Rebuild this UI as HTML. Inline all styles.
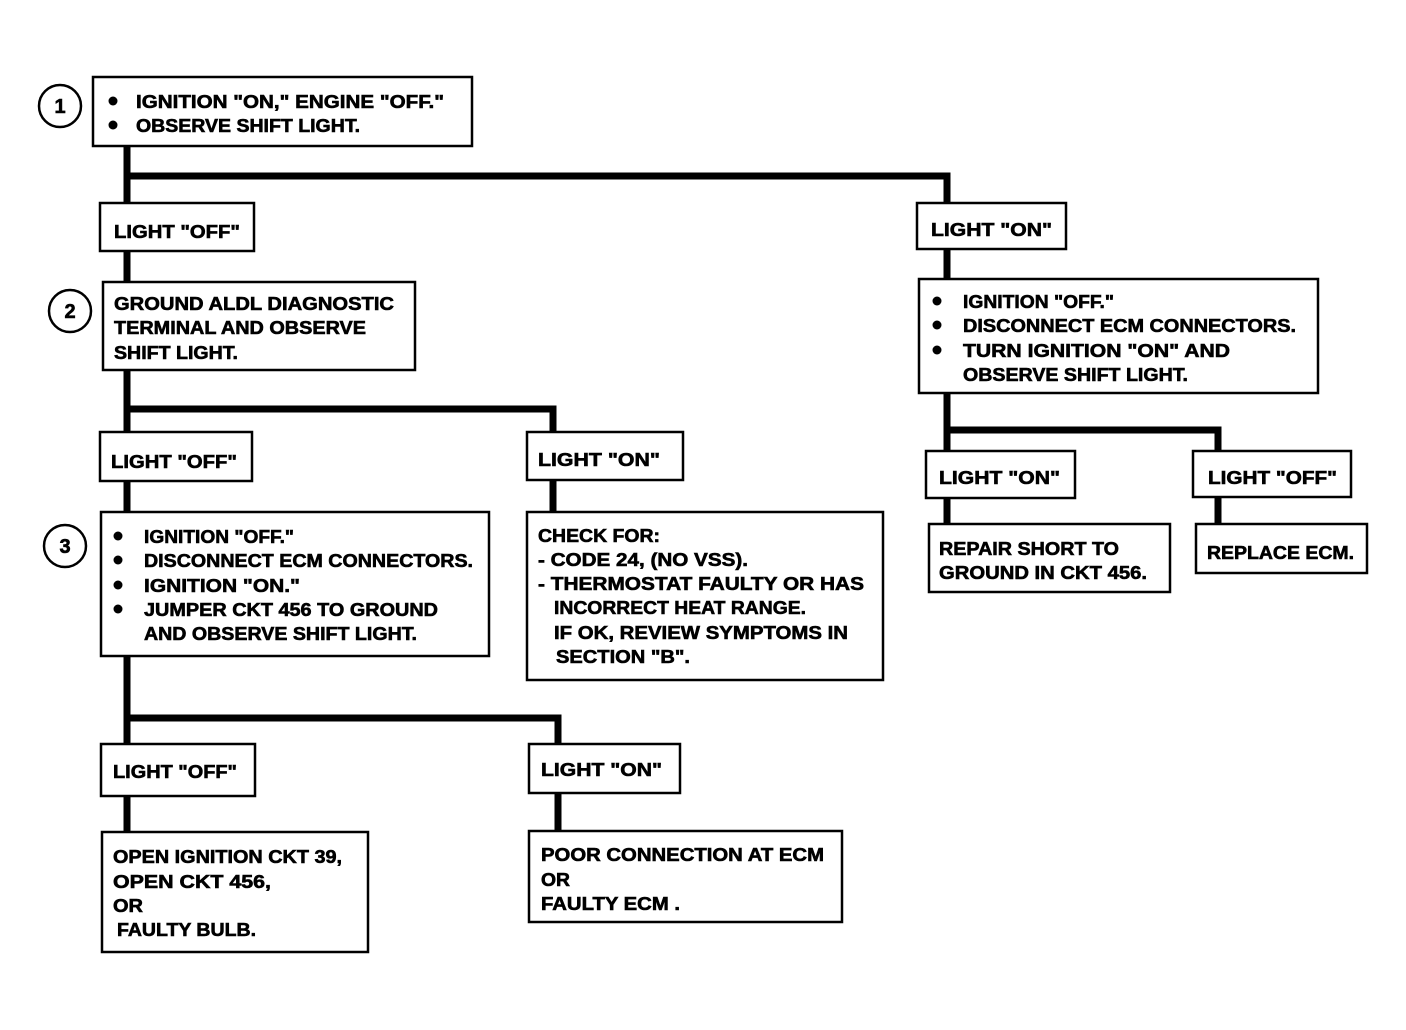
<!DOCTYPE html>
<html><head><meta charset="utf-8"><style>
html,body{margin:0;padding:0;background:#fff;}
svg{display:block;}
text{font-family:"Liberation Sans",Arial,sans-serif;font-weight:bold;font-size:18px;fill:#000;stroke:#000;stroke-width:0.6;}
.c{font-size:20px;}
</style></head><body>
<svg width="1406" height="1030" viewBox="0 0 1406 1030" xmlns="http://www.w3.org/2000/svg">
<rect width="1406" height="1030" fill="#fff"/>
<g stroke="#000" stroke-width="7" fill="none" stroke-linecap="square">
<path d="M127 146V203M127 176H947V203"/>
<path d="M127 251V282"/>
<path d="M127 370V432M127 409H553V432"/>
<path d="M127 481V512M553 480V512"/>
<path d="M127 656V744M127 718H558V744"/>
<path d="M127 796V832M558 793V831"/>
<path d="M947 249V279"/>
<path d="M947 393V451M947 430H1218V451"/>
<path d="M947 498V524M1218 497V524"/>
</g>
<g stroke="#000" stroke-width="2.5" fill="#fff">
<rect x="93" y="77" width="379" height="69"/>
<rect x="100" y="203" width="154" height="48"/>
<rect x="917" y="203" width="149" height="46"/>
<rect x="103" y="282" width="312" height="88"/>
<rect x="100" y="432" width="152" height="49"/>
<rect x="527" y="432" width="156" height="48"/>
<rect x="101" y="512" width="388" height="144"/>
<rect x="527" y="512" width="356" height="168"/>
<rect x="101" y="744" width="154" height="52"/>
<rect x="529" y="744" width="151" height="49"/>
<rect x="102" y="832" width="266" height="120"/>
<rect x="529" y="831" width="313" height="91"/>
<rect x="919" y="279" width="399" height="114"/>
<rect x="926" y="451" width="149" height="47"/>
<rect x="1193" y="451" width="158" height="46"/>
<rect x="929" y="524" width="241" height="68"/>
<rect x="1196" y="524" width="171" height="49"/>
<circle cx="60" cy="106" r="21"/>
<circle cx="70" cy="311" r="21"/>
<circle cx="65" cy="546" r="21"/>
</g>
<text class="c" x="60" y="113" text-anchor="middle">1</text>
<text class="c" x="70" y="318" text-anchor="middle">2</text>
<text class="c" x="65" y="553" text-anchor="middle">3</text>
<g fill="#000">
<circle cx="113" cy="101" r="4.5"/><circle cx="113" cy="125" r="4.5"/>
<circle cx="118" cy="536" r="4.5"/><circle cx="118" cy="560" r="4.5"/><circle cx="118" cy="585" r="4.5"/><circle cx="118" cy="609" r="4.5"/>
<circle cx="937" cy="301" r="4.5"/><circle cx="937" cy="325" r="4.5"/><circle cx="937" cy="350" r="4.5"/>
</g>
<g>
<text x="136" y="108" textLength="308" lengthAdjust="spacingAndGlyphs">IGNITION "ON," ENGINE "OFF."</text>
<text x="136" y="132" textLength="224" lengthAdjust="spacingAndGlyphs">OBSERVE SHIFT LIGHT.</text>
<text x="114" y="238" textLength="126" lengthAdjust="spacingAndGlyphs">LIGHT "OFF"</text>
<text x="931" y="236" textLength="121" lengthAdjust="spacingAndGlyphs">LIGHT "ON"</text>
<text x="114" y="310" textLength="280" lengthAdjust="spacingAndGlyphs">GROUND ALDL DIAGNOSTIC</text>
<text x="114" y="334" textLength="252" lengthAdjust="spacingAndGlyphs">TERMINAL AND OBSERVE</text>
<text x="114" y="359" textLength="124" lengthAdjust="spacingAndGlyphs">SHIFT LIGHT.</text>
<text x="111" y="468" textLength="126" lengthAdjust="spacingAndGlyphs">LIGHT "OFF"</text>
<text x="538" y="466" textLength="122" lengthAdjust="spacingAndGlyphs">LIGHT "ON"</text>
<text x="144" y="543" textLength="150" lengthAdjust="spacingAndGlyphs">IGNITION "OFF."</text>
<text x="144" y="567" textLength="329" lengthAdjust="spacingAndGlyphs">DISCONNECT ECM CONNECTORS.</text>
<text x="144" y="592" textLength="156" lengthAdjust="spacingAndGlyphs">IGNITION "ON."</text>
<text x="144" y="616" textLength="294" lengthAdjust="spacingAndGlyphs">JUMPER CKT 456 TO GROUND</text>
<text x="144" y="640" textLength="273" lengthAdjust="spacingAndGlyphs">AND OBSERVE SHIFT LIGHT.</text>
<text x="538" y="542" textLength="122" lengthAdjust="spacingAndGlyphs">CHECK FOR:</text>
<text x="538" y="566" textLength="210" lengthAdjust="spacingAndGlyphs">- CODE 24, (NO VSS).</text>
<text x="538" y="590" textLength="326" lengthAdjust="spacingAndGlyphs">- THERMOSTAT FAULTY OR HAS</text>
<text x="554" y="614" textLength="252" lengthAdjust="spacingAndGlyphs">INCORRECT HEAT RANGE.</text>
<text x="554" y="639" textLength="294" lengthAdjust="spacingAndGlyphs">IF OK, REVIEW SYMPTOMS IN</text>
<text x="556" y="663" textLength="134" lengthAdjust="spacingAndGlyphs">SECTION "B".</text>
<text x="113" y="778" textLength="124" lengthAdjust="spacingAndGlyphs">LIGHT "OFF"</text>
<text x="541" y="776" textLength="121" lengthAdjust="spacingAndGlyphs">LIGHT "ON"</text>
<text x="113" y="863" textLength="229" lengthAdjust="spacingAndGlyphs">OPEN IGNITION CKT 39,</text>
<text x="113" y="888" textLength="158" lengthAdjust="spacingAndGlyphs">OPEN CKT 456,</text>
<text x="113" y="912" textLength="30" lengthAdjust="spacingAndGlyphs">OR</text>
<text x="117" y="936" textLength="139" lengthAdjust="spacingAndGlyphs">FAULTY BULB.</text>
<text x="541" y="861" textLength="283" lengthAdjust="spacingAndGlyphs">POOR CONNECTION AT ECM</text>
<text x="541" y="886" textLength="29" lengthAdjust="spacingAndGlyphs">OR</text>
<text x="541" y="910" textLength="139" lengthAdjust="spacingAndGlyphs">FAULTY ECM .</text>
<text x="963" y="308" textLength="151" lengthAdjust="spacingAndGlyphs">IGNITION "OFF."</text>
<text x="963" y="332" textLength="333" lengthAdjust="spacingAndGlyphs">DISCONNECT ECM CONNECTORS.</text>
<text x="963" y="357" textLength="267" lengthAdjust="spacingAndGlyphs">TURN IGNITION "ON" AND</text>
<text x="963" y="381" textLength="225" lengthAdjust="spacingAndGlyphs">OBSERVE SHIFT LIGHT.</text>
<text x="939" y="484" textLength="121" lengthAdjust="spacingAndGlyphs">LIGHT "ON"</text>
<text x="1208" y="484" textLength="129" lengthAdjust="spacingAndGlyphs">LIGHT "OFF"</text>
<text x="939" y="555" textLength="180" lengthAdjust="spacingAndGlyphs">REPAIR SHORT TO</text>
<text x="939" y="579" textLength="208" lengthAdjust="spacingAndGlyphs">GROUND IN CKT 456.</text>
<text x="1207" y="559" textLength="147" lengthAdjust="spacingAndGlyphs">REPLACE ECM.</text>
</g>
</svg>
</body></html>
